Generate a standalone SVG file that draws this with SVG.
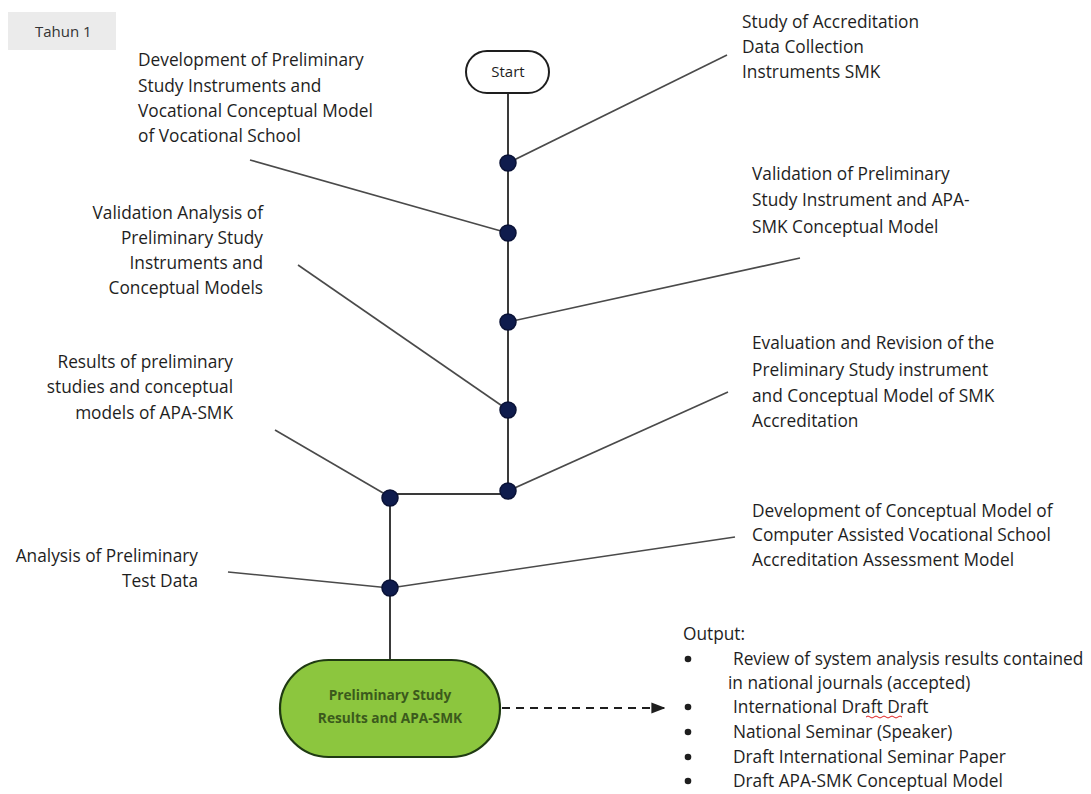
<svg xmlns="http://www.w3.org/2000/svg" width="1091" height="794" viewBox="0 0 1091 794">
  <defs>
    <style>
      .lbl { font-family: "Open Sans", "Liberation Sans", Arial, sans-serif; font-size: 17.3px; fill: #1e1e1e; }
      .ctr { text-anchor: middle; }
      .end { text-anchor: end; }
      .spine { stroke: #3a3a3a; stroke-width: 2; fill: none; }
      .lead { stroke: #4a4a4a; stroke-width: 1.6; fill: none; }
      .dot { fill: #0f1c4d; stroke: #0a1236; stroke-width: 1.5; }
      .res { font-family: "Open Sans", "Liberation Sans", Arial, sans-serif; font-size: 13.7px; font-weight: bold; fill: #3b5a1c; text-anchor: middle; }
    </style>
    <marker id="arrow" viewBox="0 0 10 10" refX="9" refY="5" markerWidth="7" markerHeight="7" orient="auto">
      <path d="M0,1 L10,5 L0,9 z" fill="#1e1e1e"/>
    </marker>
  </defs>

  <rect width="1091" height="794" fill="#ffffff"/>

  <!-- year tag -->
  <g id="year-tag">
    <rect x="8" y="12" width="108" height="38" fill="#ebebeb"/>
    <text x="35" y="37" style="font-family:'Open Sans','Liberation Sans',Arial,sans-serif;font-size:15px;fill:#333">Tahun 1</text>
  </g>

  <!-- connectors -->
  <g id="connectors">
    <path class="spine" d="M508,93 V491"/>
    <path class="spine" d="M390,494 H508"/>
    <path class="spine" d="M390,497 V660"/>
    <path class="lead" d="M508,163 L727,55"/>
    <path class="lead" d="M250,160 L508,233"/>
    <path class="lead" d="M508,322 L800,258"/>
    <path class="lead" d="M298,265 L508,410"/>
    <path class="lead" d="M508,491 L728,392"/>
    <path class="lead" d="M275,430 L390,497"/>
    <path class="lead" d="M228,572 L390,588"/>
    <path class="lead" d="M390,588 L735,537"/>
    <path d="M502,708 H664" stroke="#1e1e1e" stroke-width="2" stroke-dasharray="8,6" fill="none" marker-end="url(#arrow)"/>
  </g>

  <!-- start terminal -->
  <g id="start">
    <rect x="466" y="51" width="83" height="42" rx="21" ry="21" fill="#ffffff" stroke="#1e1e1e" stroke-width="2"/>
    <text class="lbl ctr" x="508" y="77" style="font-size:15px">Start</text>
  </g>

  <!-- junction dots -->
  <g id="n1"><circle class="dot" cx="508" cy="163" r="8"/></g>
  <g id="n2"><circle class="dot" cx="508" cy="233" r="8"/></g>
  <g id="n3"><circle class="dot" cx="508" cy="322" r="8"/></g>
  <g id="n4"><circle class="dot" cx="508" cy="410" r="8"/></g>
  <g id="n5"><circle class="dot" cx="508" cy="491" r="8"/></g>
  <g id="n6"><circle class="dot" cx="390" cy="498" r="8"/></g>
  <g id="n7"><circle class="dot" cx="390" cy="588" r="8"/></g>

  <!-- step labels -->
  <g id="t-study-accreditation">
    <text class="lbl" x="742" y="28">Study of Accreditation</text>
    <text class="lbl" x="742" y="53">Data Collection</text>
    <text class="lbl" x="742" y="78">Instruments SMK</text>
  </g>
  <g id="t-development">
    <text class="lbl" x="138" y="66">Development of Preliminary</text>
    <text class="lbl" x="138" y="92">Study Instruments and</text>
    <text class="lbl" x="138" y="117">Vocational Conceptual Model</text>
    <text class="lbl" x="138" y="142">of Vocational School</text>
  </g>
  <g id="t-validation">
    <text class="lbl" x="752" y="180">Validation of Preliminary</text>
    <text class="lbl" x="752" y="206">Study Instrument and APA-</text>
    <text class="lbl" x="752" y="233">SMK Conceptual Model</text>
  </g>
  <g id="t-validation-analysis">
    <text class="lbl end" x="263" y="219">Validation Analysis of</text>
    <text class="lbl end" x="263" y="244">Preliminary Study</text>
    <text class="lbl end" x="263" y="269">Instruments and</text>
    <text class="lbl end" x="263" y="294">Conceptual Models</text>
  </g>
  <g id="t-evaluation">
    <text class="lbl" x="752" y="349">Evaluation and Revision of the</text>
    <text class="lbl" x="752" y="376">Preliminary Study instrument</text>
    <text class="lbl" x="752" y="402">and Conceptual Model of SMK</text>
    <text class="lbl" x="752" y="427">Accreditation</text>
  </g>
  <g id="t-results">
    <text class="lbl end" x="233" y="368">Results of preliminary</text>
    <text class="lbl end" x="233" y="393">studies and conceptual</text>
    <text class="lbl end" x="233" y="419">models of APA-SMK</text>
  </g>
  <g id="t-analysis">
    <text class="lbl end" x="198" y="562">Analysis of Preliminary</text>
    <text class="lbl end" x="198" y="587">Test Data</text>
  </g>
  <g id="t-conceptual-model">
    <text class="lbl" x="752" y="517">Development of Conceptual Model of</text>
    <text class="lbl" x="752" y="541">Computer Assisted Vocational School</text>
    <text class="lbl" x="752" y="566">Accreditation Assessment Model</text>
  </g>

  <!-- end terminal -->
  <g id="result">
    <rect x="280" y="660" width="220" height="97" rx="48.5" ry="48.5" fill="#8cc63e" stroke="#1f3a12" stroke-width="2.2"/>
    <text class="res" x="390" y="700">Preliminary Study</text>
    <text class="res" x="390" y="723">Results and APA-SMK</text>
  </g>

  <!-- output list -->
  <g id="output">
    <text class="lbl" x="683" y="640">Output:</text>
    <g fill="#1e1e1e">
      <circle cx="688" cy="659" r="3.3"/>
      <circle cx="688" cy="707" r="3.3"/>
      <circle cx="688" cy="732" r="3.3"/>
      <circle cx="688" cy="757" r="3.3"/>
      <circle cx="688" cy="781" r="3.3"/>
    </g>
    <text class="lbl" x="733" y="665">Review of system analysis results contained</text>
    <text class="lbl" x="728" y="689">in national journals (accepted)</text>
    <text class="lbl" x="733" y="713">International Draft Draft</text>
    <path d="M866,717 q2,-2 4,0 t4,0 t4,0 t4,0 t4,0 t4,0 t4,0 t4,0 t4,0" stroke="#e02020" stroke-width="1" fill="none"/>
    <text class="lbl" x="733" y="738">National Seminar (Speaker)</text>
    <text class="lbl" x="733" y="763">Draft International Seminar Paper</text>
    <text class="lbl" x="733" y="787">Draft APA-SMK Conceptual Model</text>
  </g>
</svg>
